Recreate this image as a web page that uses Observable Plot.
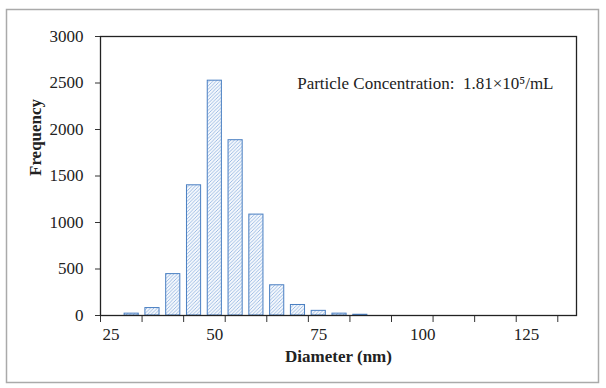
<!DOCTYPE html>
<html>
<head>
<meta charset="utf-8">
<script src="https://cdn.jsdelivr.net/npm/d3@7"></script>
<script src="https://cdn.jsdelivr.net/npm/@observablehq/plot@0.6"></script>
<style>
  html, body { margin: 0; padding: 0; background: #fff; }
  svg text { font-family: 'Liberation Serif', 'Times New Roman', serif; }
</style>
</head>
<body>
<div id="chart"></div>
<script>
const diameters = [30, 35, 40, 45, 50, 55, 60, 65, 70, 75, 80, 85];
const frequency = [20, 80, 445, 1400, 2525, 1885, 1085, 325, 113, 50, 20, 8];
const xTickMarks = [22.5, 32.5, 42.5, 52.5, 62.5, 72.5, 82.5, 92.5, 102.5, 112.5, 122.5, 132.5];
const xTickLabels = [25, 50, 75, 100, 125];
const yTicks = [0, 500, 1000, 1500, 2000, 2500, 3000];
const xTitle = "Diameter (nm)";
const yTitle = "Frequency";
const note = "Particle Concentration:  1.81×10⁵/mL";

const data = diameters.map((d, i) => ({d, f: frequency[i]}));
const halfWidth = 1.7;
const serif = "'Liberation Serif', 'Times New Roman', serif";

const chart = Plot.plot({
  width: 606,
  height: 388,
  marginLeft: 100,
  marginRight: 30,
  marginTop: 36,
  marginBottom: 73,
  style: {fontFamily: serif, fontSize: "17px", color: "#222", background: "#fff"},
  x: {domain: [22.5, 137]},
  y: {domain: [0, 3000]},
  marks: [
    Plot.frame({stroke: "#aaa", strokeWidth: 1.5, insetLeft: -94, insetTop: -27, insetRight: -22, insetBottom: -67}),
    Plot.rectY(data, {x1: d => d.d - halfWidth, x2: d => d.d + halfWidth, y: "f", fill: "url(#hatch)", stroke: "#4a7fc2", strokeWidth: 1}),
    Plot.axisY({ticks: yTicks, tickFormat: d3.format("d"), tickSize: 5, tickPadding: 12, label: null, stroke: "#333", fill: "#222", fontSize: 17, fontFamily: serif}),
    Plot.axisX({ticks: xTickMarks, tickSize: 7, tickFormat: () => "", label: null, stroke: "#333"}),
    Plot.axisX({ticks: xTickLabels, tickSize: 0, tickPadding: 12, label: null, fill: "#222", fontSize: 17, fontFamily: serif}),
    Plot.frame({stroke: "#222", strokeWidth: 1.3}),
    Plot.text([xTitle], {frameAnchor: "bottom", dy: 46, fontWeight: "bold", fontSize: 17, fontFamily: serif, fill: "#222"}),
    Plot.text([yTitle], {frameAnchor: "left", dx: -65, rotate: -90, fontWeight: "bold", fontSize: 17, fontFamily: serif, fill: "#222"}),
    Plot.text([note], {frameAnchor: "top-right", dx: -23, dy: 40, textAnchor: "end", fontSize: 17, fontFamily: serif, fill: "#222"})
  ]
});

const ns = "http://www.w3.org/2000/svg";
const defs = document.createElementNS(ns, "defs");
defs.innerHTML = `<pattern id="hatch" patternUnits="userSpaceOnUse" width="3.5" height="3.5">
  <rect width="3.5" height="3.5" fill="#f3f7fc"></rect>
  <path d="M-1,1 l2,-2 M0,3.5 l3.5,-3.5 M2.5,4.5 l2,-2" stroke="#7ea7dc" stroke-width="0.7"></path>
</pattern>`;
chart.insertBefore(defs, chart.firstChild);
document.getElementById("chart").appendChild(chart);
</script>
</body>
</html>
